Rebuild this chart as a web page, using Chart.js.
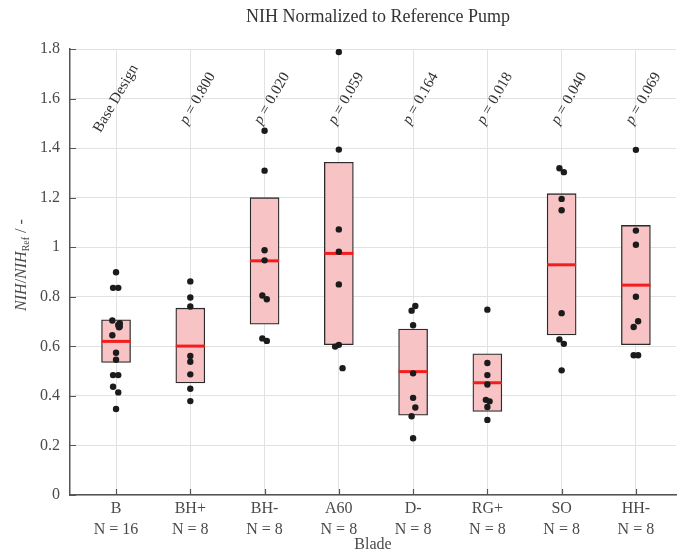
<!DOCTYPE html>
<html>
<head>
<meta charset="utf-8">
<script src="https://cdn.jsdelivr.net/npm/chart.js@4.4.0/dist/chart.umd.min.js"></script>
<style>
  html, body { margin: 0; padding: 0; background: #fff; overflow: hidden; }
  #wrap { width: 686px; height: 553px; position: relative; }
</style>
</head>
<body>
<div id="wrap"><canvas id="chart"></canvas></div>
<script>
// Blades and sample counts
const categories = ["B", "BH+", "BH-", "A60", "D-", "RG+", "SO", "HH-"];
const counts = [16, 8, 8, 8, 8, 8, 8, 8];
const pLabels = ["Base Design", "0.800", "0.020", "0.059", "0.164", "0.018", "0.040", "0.069"];

// Box statistics
const q1 = [0.535, 0.452, 0.689, 0.607, 0.322, 0.337, 0.646, 0.607];
const medians = [0.620, 0.601, 0.945, 0.975, 0.498, 0.453, 0.929, 0.847];
const q3 = [0.707, 0.754, 1.200, 1.343, 0.670, 0.570, 1.216, 1.088];

// Individual samples per blade
const sampleValues = [
  [0.899, 0.836, 0.836, 0.704, 0.693, 0.686, 0.680, 0.677, 0.645, 0.574, 0.546, 0.484, 0.484, 0.437, 0.414, 0.347],
  [0.862, 0.797, 0.761, 0.561, 0.538, 0.487, 0.429, 0.379],
  [1.470, 1.309, 0.988, 0.947, 0.805, 0.790, 0.632, 0.622],
  [1.788, 1.394, 1.072, 0.982, 0.850, 0.606, 0.599, 0.512],
  [0.763, 0.744, 0.685, 0.491, 0.392, 0.353, 0.318, 0.229],
  [0.748, 0.533, 0.484, 0.446, 0.384, 0.378, 0.355, 0.303],
  [1.319, 1.303, 1.195, 1.149, 0.734, 0.628, 0.610, 0.503],
  [1.393, 1.067, 1.010, 0.800, 0.701, 0.678, 0.564, 0.564]
];
// horizontal jitter of the samples (category units)
const sampleJitter = [
  [0, -0.04, 0.03, -0.05, 0.05, 0.03, 0.05, 0.04, -0.05, 0, 0, -0.04, 0.03, -0.04, 0.03, 0],
  [0, 0, 0, 0, 0, 0, 0, 0],
  [0, 0, 0, 0, -0.03, 0.03, -0.03, 0.03],
  [0, 0, 0, 0, 0, 0, -0.05, 0.05],
  [0.03, -0.02, 0, 0, 0, 0.03, -0.02, 0],
  [0, 0, 0, 0, -0.02, 0.03, 0, 0],
  [-0.03, 0.03, 0, 0, 0, -0.03, 0.03, 0],
  [0, 0, 0, 0, 0.03, -0.03, -0.03, 0.03]
];

const yTicks = [0, 0.2, 0.4, 0.6, 0.8, 1, 1.2, 1.4, 1.6, 1.8];

const FONT = "'Liberation Serif', 'DejaVu Serif', serif";
const TEXT = "#4a4a4a";

// Build datasets
const boxData = categories.map((c, i) => ({ x: i + 1, y: [q1[i], q3[i]] }));
const medianData = categories.map((c, i) => ({ x: i + 1, y: medians[i] }));
const pointData = [];
sampleValues.forEach((vals, i) => {
  vals.forEach((v, j) => {
    pointData.push({ x: i + 1 + sampleJitter[i][j], y: v });
  });
});

// Extra text: title, axis titles, p-values, inner tick marks
const decorations = {
  id: "decorations",
  beforeDatasetsDraw(chart) {
    const ctx = chart.ctx;
    const xs = chart.scales.x;
    const ys = chart.scales.y;
    ctx.save();
    ctx.fillStyle = "#333";
    pLabels.forEach((lab, i) => {
      const isBase = i === 0;
      const cx = xs.getPixelForValue(i + 1 + (isBase ? 0 : 0.1));
      const cy = ys.getPixelForValue(1.6);
      ctx.save();
      ctx.translate(cx, cy);
      ctx.rotate(-Math.PI / 3);
      ctx.textBaseline = "middle";
      if (isBase) {
        ctx.font = "15px " + FONT;
        ctx.textAlign = "center";
        ctx.fillText(lab, 0, 0);
      } else {
        ctx.font = "italic 15px " + FONT;
        const pW = ctx.measureText("p").width;
        ctx.font = "15px " + FONT;
        const rest = " = " + lab;
        const rW = ctx.measureText(rest).width;
        const start = -(pW + rW) / 2;
        ctx.textAlign = "left";
        ctx.font = "italic 15px " + FONT;
        ctx.fillText("p", start, 0);
        ctx.font = "15px " + FONT;
        ctx.fillText(rest, start + pW, 0);
      }
      ctx.restore();
    });
    ctx.restore();
  },
  afterDraw(chart) {
    const ctx = chart.ctx;
    const area = chart.chartArea;
    const xs = chart.scales.x;
    const ys = chart.scales.y;
    ctx.save();

    // inner tick marks
    ctx.strokeStyle = "#555";
    ctx.lineWidth = 1.2;
    ctx.beginPath();
    yTicks.forEach((t) => {
      const y = Math.round(ys.getPixelForValue(t)) + 0.5;
      ctx.moveTo(area.left, y);
      ctx.lineTo(area.left + 6, y);
    });
    categories.forEach((c, i) => {
      const x = Math.round(xs.getPixelForValue(i + 1)) + 0.5;
      ctx.moveTo(x, area.bottom);
      ctx.lineTo(x, area.bottom - 6);
    });
    ctx.stroke();

    // title
    ctx.fillStyle = "#333";
    ctx.textAlign = "center";
    ctx.textBaseline = "middle";
    ctx.font = "18px " + FONT;
    ctx.fillText("NIH Normalized to Reference Pump", (area.left + area.right) / 2 + 5, 17);

    // x title
    ctx.fillStyle = TEXT;
    ctx.font = "16px " + FONT;
    ctx.fillText("Blade", (area.left + area.right) / 2, 545);

    // y title: NIH/NIH_Ref / -
    ctx.save();
    ctx.translate(26, (area.top + area.bottom) / 2 - 7);
    ctx.rotate(-Math.PI / 2);
    ctx.textAlign = "left";
    ctx.textBaseline = "alphabetic";
    const parts = [
      { t: "NIH", f: "italic 16px " + FONT, dy: 0 },
      { t: "/", f: "16px " + FONT, dy: 0 },
      { t: "NIH", f: "italic 16px " + FONT, dy: 0 },
      { t: "Ref", f: "10px " + FONT, dy: 3 },
      { t: " / -", f: "16px " + FONT, dy: 0 }
    ];
    let total = 0;
    parts.forEach((p) => { ctx.font = p.f; total += ctx.measureText(p.t).width; });
    let px = -total / 2;
    parts.forEach((p) => {
      ctx.font = p.f;
      ctx.fillText(p.t, px, p.dy);
      px += ctx.measureText(p.t).width;
    });
    ctx.restore();

    ctx.restore();
  }
};

new Chart(document.getElementById("chart"), {
  type: "bar",
  data: {
    datasets: [
      {
        type: "scatter",
        data: pointData,
        order: 0,
        pointRadius: 3.2,
        pointBackgroundColor: "#1b1b1b",
        pointBorderWidth: 0,
        pointHoverRadius: 3.2
      },
      {
        type: "scatter",
        data: medianData,
        order: 1,
        pointStyle: "line",
        pointRadius: 14.5,
        pointHoverRadius: 14.5,
        pointBorderColor: "#f21d1d",
        pointBorderWidth: 3,
        borderColor: "#f21d1d"
      },
      {
        type: "bar",
        data: boxData,
        order: 2,
        barThickness: 29,
        backgroundColor: "#f8c3c4",
        borderColor: "#2b2b2b",
        borderWidth: 1.3,
        borderSkipped: false
      }
    ]
  },
  options: {
    responsive: true,
    maintainAspectRatio: false,
    animation: false,
    layout: { autoPadding: false, padding: { top: 49, right: 10, left: 0, bottom: 0 } },
    plugins: {
      legend: { display: false },
      tooltip: { enabled: false }
    },
    scales: {
      x: {
        type: "linear",
        offset: false,
        min: 0.38,
        max: 8.54,
        afterBuildTicks: (scale) => {
          scale.ticks = categories.map((c, i) => ({ value: i + 1 }));
        },
        afterFit: (scale) => { scale.height = 58; },
        grid: { color: "#e2e2e2", lineWidth: 1, drawTicks: false, offset: false },
        border: { color: "#555", width: 1.5 },
        ticks: {
          autoSkip: false,
          maxRotation: 0,
          minRotation: 0,
          padding: 3,
          color: TEXT,
          font: { family: FONT, size: 16, lineHeight: 1.3125 },
          callback: (v, i) => [categories[i], "N = " + counts[i]]
        }
      },
      y: {
        type: "linear",
        min: 0,
        max: 1.8,
        afterBuildTicks: (scale) => {
          scale.ticks = yTicks.map((v) => ({ value: v }));
        },
        afterFit: (scale) => { scale.width = 70; },
        grid: { color: "#e2e2e2", lineWidth: 1, drawTicks: false },
        border: { color: "#555", width: 1.5 },
        ticks: {
          padding: 10,
          color: TEXT,
          font: { family: FONT, size: 16 },
          callback: (v) => String(Number(v.toFixed(1)))
        }
      }
    }
  },
  plugins: [decorations]
});
</script>
</body>
</html>
